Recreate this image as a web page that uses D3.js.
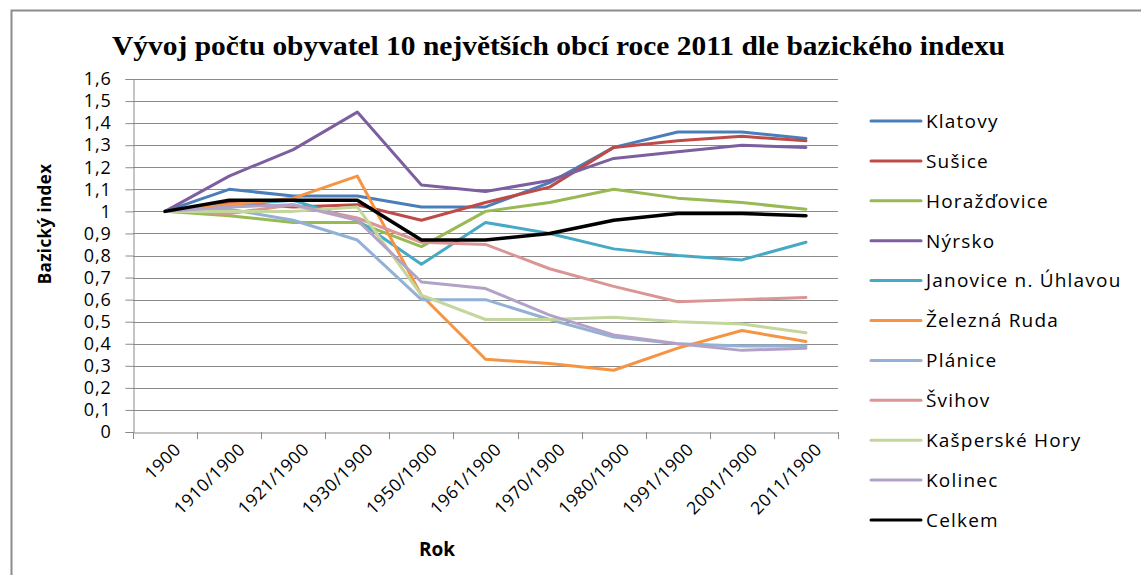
<!DOCTYPE html>
<html>
<head>
<meta charset="utf-8">
<script src="https://cdn.jsdelivr.net/npm/d3@7"></script>
<style>
  body { margin: 0; background: #fff; }
  svg text { font-family: "Open Sans", sans-serif; fill: #000; }
</style>
</head>
<body>
<div id="chart"></div>
<script>
var categories = ['1900', '1910/1900', '1921/1900', '1930/1900', '1950/1900', '1961/1900',
                  '1970/1900', '1980/1900', '1991/1900', '2001/1900', '2011/1900'];

var seriesNames = ['Klatovy', 'Sušice', 'Horažďovice', 'Nýrsko', 'Janovice n. Úhlavou',
                   'Železná Ruda', 'Plánice', 'Švihov', 'Kašperské Hory', 'Kolinec', 'Celkem'];

var klatovy     = [1, 1.10, 1.07, 1.07, 1.02, 1.02, 1.13, 1.29, 1.36, 1.36, 1.33];
var susice      = [1, 1.04, 1.02, 1.03, 0.96, 1.04, 1.11, 1.29, 1.32, 1.34, 1.32];
var horazdovice = [1, 0.98, 0.95, 0.95, 0.84, 1.00, 1.04, 1.10, 1.06, 1.04, 1.01];
var nyrsko      = [1, 1.16, 1.28, 1.45, 1.12, 1.09, 1.14, 1.24, 1.27, 1.30, 1.29];
var janovice    = [1, 1.03, 1.05, 0.96, 0.76, 0.95, 0.90, 0.83, 0.80, 0.78, 0.86];
var zeleznaRuda = [1, 1.03, 1.06, 1.16, 0.62, 0.33, 0.31, 0.28, 0.38, 0.46, 0.41];
var planice     = [1, 1.01, 0.96, 0.87, 0.60, 0.60, 0.51, 0.43, 0.40, 0.39, 0.39];
var svihov      = [1, 0.99, 1.03, 0.97, 0.86, 0.85, 0.74, 0.66, 0.59, 0.60, 0.61];
var kasperske   = [1, 1.00, 1.00, 1.02, 0.62, 0.51, 0.51, 0.52, 0.50, 0.49, 0.45];
var kolinec     = [1, 1.02, 1.03, 0.96, 0.68, 0.65, 0.53, 0.44, 0.40, 0.37, 0.38];
var celkem      = [1, 1.05, 1.05, 1.05, 0.87, 0.87, 0.90, 0.96, 0.99, 0.99, 0.98];

var yTicks = [0, 0.1, 0.2, 0.3, 0.4, 0.5, 0.6, 0.7, 0.8, 0.9, 1, 1.1, 1.2, 1.3, 1.4, 1.5, 1.6];

var colors = ['#4a7ebb', '#be4b48', '#98b954', '#7d5fa0', '#46aac5',
              '#f59443', '#93b1d6', '#d99694', '#c3d69b', '#b3a2c7', '#000000'];

var allValues = [klatovy, susice, horazdovice, nyrsko, janovice, zeleznaRuda,
                 planice, svihov, kasperske, kolinec, celkem];

var W = 1141, H = 575;
var plot = { left: 133, right: 838, top: 79, bottom: 432 };

var svg = d3.select('#chart').append('svg')
    .attr('width', W)
    .attr('height', H);

// outer frame (only top and left are visible in the picture)
svg.append('rect')
    .attr('x', 11.5).attr('y', 10.5)
    .attr('width', W + 20).attr('height', H + 20)
    .attr('fill', 'none')
    .attr('stroke', '#8c8c8c')
    .attr('stroke-width', 2);

svg.append('text')
    .attr('x', 112).attr('y', 55)
    .attr('textLength', 893)
    .attr('lengthAdjust', 'spacingAndGlyphs')
    .style('font-family', '"Liberation Serif", "Times New Roman", serif')
    .style('font-weight', 'bold')
    .style('font-size', '28px')
    .text('Vývoj počtu obyvatel 10 největších obcí roce 2011 dle bazického indexu');

var x = d3.scaleBand()
    .domain(categories)
    .range([plot.left, plot.right]);

var y = d3.scaleLinear()
    .domain([0, 1.6])
    .range([plot.bottom, plot.top]);

// gridlines
svg.append('g')
  .selectAll('line')
  .data(yTicks.slice(1))
  .enter().append('line')
    .attr('x1', plot.left).attr('x2', plot.right)
    .attr('y1', function(d) { return Math.round(y(d)) + 0.5; })
    .attr('y2', function(d) { return Math.round(y(d)) + 0.5; })
    .attr('stroke', '#8a8a8a')
    .attr('stroke-width', 1);

// y axis
var yAxis = svg.append('g')
    .attr('transform', 'translate(' + (plot.left + 0.5) + ',0)')
    .call(d3.axisLeft(y)
      .tickValues(yTicks)
      .tickSize(8)
      .tickPadding(14)
      .tickFormat(function(d) { return d3.format('.1~f')(d).replace('.', ','); }));
yAxis.select('.domain').attr('stroke', '#8a8a8a');
yAxis.selectAll('.tick line').attr('stroke', '#8a8a8a');
yAxis.selectAll('.tick text')
    .style('font-size', '18px')
    .style('letter-spacing', '0.8px')
    .attr('fill', '#000');

// x axis: labels at the centre, tick marks on the band edges
var xAxis = svg.append('g')
    .attr('transform', 'translate(0,' + (plot.bottom + 0.5) + ')')
    .call(d3.axisBottom(x).tickSize(0).tickPadding(0));
xAxis.select('.domain').attr('stroke', '#8a8a8a');
xAxis.selectAll('.tick text')
    .style('font-size', '17.5px')
    .style('letter-spacing', '0.6px')
    .attr('fill', '#000')
    .style('text-anchor', 'end')
    .attr('y', 0)
    .attr('dy', 0)
    .attr('transform', 'translate(17,18) rotate(-45)');

var edges = categories.map(function(c) { return x(c); }).concat([x.range()[1]]);
svg.append('g')
  .selectAll('line')
  .data(edges)
  .enter().append('line')
    .attr('x1', function(d) { return Math.round(d) + 0.5; })
    .attr('x2', function(d) { return Math.round(d) + 0.5; })
    .attr('y1', plot.bottom).attr('y2', plot.bottom + 7)
    .attr('stroke', '#8a8a8a');

// axis titles
svg.append('text')
    .attr('transform', 'translate(51,224) rotate(-90)')
    .style('text-anchor', 'middle')
    .style('font-weight', 'bold')
    .style('font-size', '17px')
    .style('letter-spacing', '0.4px')
    .text('Bazický index');

svg.append('text')
    .attr('x', 437).attr('y', 556)
    .style('text-anchor', 'middle')
    .style('font-weight', 'bold')
    .style('font-size', '19px')
    .text('Rok');

// lines
var line = d3.line()
    .x(function(d, i) { return x(categories[i]) + x.bandwidth() / 2; })
    .y(function(d) { return y(d); });

svg.append('g')
  .selectAll('path')
  .data(allValues)
  .enter().append('path')
    .attr('d', line)
    .attr('fill', 'none')
    .attr('stroke', function(d, i) { return colors[i]; })
    .attr('stroke-width', function(d, i) { return i == 10 ? 3.5 : 3; })
    .attr('stroke-linejoin', 'round')
    .attr('stroke-linecap', 'round');

// legend
var legend = svg.append('g')
  .selectAll('g')
  .data(seriesNames)
  .enter().append('g')
    .attr('transform', function(d, i) { return 'translate(871,' + (121 + i * 39.9) + ')'; });

legend.append('line')
    .attr('x1', 0).attr('x2', 50)
    .attr('stroke', function(d, i) { return colors[i]; })
    .attr('stroke-width', 3)
    .attr('stroke-linecap', 'round');

legend.append('text')
    .attr('x', 55)
    .attr('dy', '0.36em')
    .style('font-size', '19px')
    .style('letter-spacing', '1.2px')
    .text(function(d) { return d; });
</script>
</body>
</html>
